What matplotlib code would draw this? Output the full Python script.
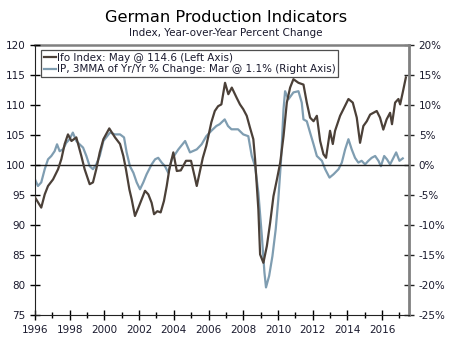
import numpy as np
import matplotlib
matplotlib.use("Agg")
import matplotlib.pyplot as plt
from matplotlib.ticker import MultipleLocator, FuncFormatter

# Ifo index (left axis): decimal year, index level
ifo_t = [1996.0, 1996.36, 1996.56, 1996.75, 1997.04, 1997.33, 1997.52, 1997.71, 1997.9,
         1998.1, 1998.38, 1998.67, 1998.86, 1999.15, 1999.34, 1999.53, 1999.73, 1999.94,
         2000.28, 2000.61, 2000.9, 2001.09, 2001.24, 2001.44, 2001.57, 2001.76, 2001.96,
         2002.15, 2002.34, 2002.53, 2002.72, 2002.86, 2003.05, 2003.24, 2003.43, 2003.59,
         2003.74, 2003.97, 2004.17, 2004.4, 2004.7, 2004.99, 2005.19, 2005.32, 2005.67,
         2005.87, 2006.16, 2006.36, 2006.55, 2006.74, 2006.95, 2007.14, 2007.34, 2007.62,
         2007.81, 2008.0, 2008.2, 2008.39, 2008.58, 2008.68, 2008.87, 2008.97, 2009.16,
         2009.36, 2009.55, 2009.74, 2009.94, 2010.13, 2010.32, 2010.51, 2010.7, 2010.89,
         2011.18, 2011.47, 2011.66, 2011.85, 2012.05, 2012.24, 2012.43, 2012.62, 2012.77,
         2013.0, 2013.16, 2013.29, 2013.58, 2013.77, 2014.06, 2014.31, 2014.54, 2014.73,
         2014.92, 2015.12, 2015.31, 2015.5, 2015.69, 2015.88, 2016.07, 2016.26, 2016.46,
         2016.57, 2016.75, 2016.94, 2017.04, 2017.19, 2017.37]
ifo_v = [94.6, 92.9, 95.1, 96.5, 97.6, 99.3, 101.0, 103.5, 105.1,
         104.0, 104.6, 101.5, 99.3, 96.8, 97.1, 99.3, 102.1, 104.3,
         106.1, 104.6, 103.5, 101.5, 99.3, 95.9, 94.3, 91.5, 92.9,
         94.3, 95.7, 95.1, 93.7, 91.8, 92.3, 92.1, 94.0, 96.5,
         99.3, 102.1, 99.0, 99.1, 100.7, 100.7, 98.2, 96.5, 101.2,
         103.2, 107.1, 109.0, 109.8, 110.1, 113.7, 111.8, 112.9, 111.2,
         110.1, 109.3, 108.2, 106.2, 104.3, 101.0, 92.6, 85.1, 83.7,
         86.5, 90.4, 94.8, 97.6, 100.4, 104.8, 110.4, 112.9, 114.3,
         113.7, 113.4, 110.4, 107.9, 107.3, 108.2, 104.0, 101.8, 101.2,
         105.7, 103.5, 105.7, 108.2, 109.3, 111.0, 110.4, 107.9, 103.7,
         106.5, 107.3, 108.4, 108.7, 109.0, 107.9, 105.9, 107.6, 108.7,
         106.8, 110.4, 111.0, 110.1, 112.1, 114.6]

# IP, 3MMA of yr/yr % change (right axis)
ip_t = [1996.0, 1996.17, 1996.36, 1996.56, 1996.75, 1996.94, 1997.13, 1997.27, 1997.42,
        1997.61, 1997.8, 1997.99, 1998.18, 1998.38, 1998.57, 1998.77, 1998.96, 1999.15,
        1999.34, 1999.53, 1999.73, 1999.94, 2000.32, 2000.61, 2000.9, 2001.13, 2001.28,
        2001.47, 2001.67, 2001.86, 2002.05, 2002.24, 2002.43, 2002.72, 2002.92, 2003.1,
        2003.3, 2003.49, 2003.68, 2003.88, 2004.26, 2004.65, 2004.93, 2005.32, 2005.6,
        2005.87, 2006.16, 2006.45, 2006.64, 2006.93, 2007.12, 2007.32, 2007.7, 2008.0,
        2008.29, 2008.49, 2008.68, 2008.87, 2009.07, 2009.22, 2009.31, 2009.49, 2009.68,
        2009.87, 2010.02, 2010.18, 2010.32, 2010.41, 2010.6, 2010.89, 2011.18, 2011.37,
        2011.47, 2011.66, 2011.85, 2012.05, 2012.24, 2012.53, 2012.72, 2012.97, 2013.2,
        2013.49, 2013.68, 2013.87, 2014.06, 2014.25, 2014.44, 2014.63, 2014.82, 2015.02,
        2015.21, 2015.4, 2015.6, 2015.79, 2015.93, 2016.12, 2016.28, 2016.46, 2016.61,
        2016.81, 2017.0, 2017.19]
ip_v = [-2.4, -3.5, -2.9, -0.7, 0.95, 1.5, 2.3, 3.45, 2.3,
        2.6, 3.7, 4.3, 5.4, 4.0, 3.45, 2.9, 1.5, -0.2,
        -0.7, 0.1, 1.5, 4.0, 5.4, 5.1, 5.1, 4.6, 2.1,
        -0.2, -1.3, -2.9, -4.05, -2.9, -1.55, 0.1, 0.95, 1.2,
        0.4, -0.2, -1.3, 0.95, 2.6, 4.0, 2.1, 2.6, 3.45,
        4.8, 5.7, 6.5, 6.8, 7.6, 6.5, 5.95, 5.95, 5.1,
        4.8, 1.5, -0.2, -4.6, -11.8, -17.9, -20.4, -18.5, -15.2,
        -10.7, -5.7, 0.95, 9.3, 12.3, 10.95, 12.1, 12.3, 10.4,
        7.6, 7.3, 5.4, 3.45, 1.5, 0.7, -0.7, -2.1, -1.55,
        -0.7, 0.4, 2.6, 4.3, 2.6, 1.2, 0.4, 0.7, 0.1,
        0.7, 1.2, 1.5, 0.7, -0.2, 1.5, 0.95, 0.1, 0.95,
        2.1, 0.7, 1.1]

ifo_color = "#4b4038"
ip_color = "#7f9db1"
text_color = "#1a1a2e"

fig = plt.figure(figsize=(4.5, 3.41), dpi=100)
ax = fig.add_axes([35 / 450, 26 / 341, 374 / 450, 270 / 341])
ax2 = ax.twinx()

ax.axhline(100, color="#222222", lw=1.0, zorder=1)
l2, = ax2.plot(ip_t, ip_v, color=ip_color, lw=1.6, zorder=2,
               label="IP, 3MMA of Yr/Yr % Change: Mar @ 1.1% (Right Axis)")
l1, = ax.plot(ifo_t, ifo_v, color=ifo_color, lw=1.6, zorder=3,
              label="Ifo Index: May @ 114.6 (Left Axis)")
ax.set_zorder(ax2.get_zorder() + 1)
ax.patch.set_visible(False)

ax.set_xlim(1996, 2017.55)
ax.set_ylim(75, 120)
ax2.set_ylim(-25, 20)

ax.xaxis.set_major_locator(MultipleLocator(2))
ax.xaxis.set_minor_locator(MultipleLocator(1))
ax.yaxis.set_major_locator(MultipleLocator(5))
ax2.yaxis.set_major_locator(MultipleLocator(5))
ax2.yaxis.set_major_formatter(FuncFormatter(lambda v, p: f"{v:.0f}%"))

for a in (ax, ax2):
    a.tick_params(which="both", direction="inout", labelsize=7.5,
                  labelcolor=text_color, width=1)
    a.tick_params(which="major", length=7)
    a.tick_params(which="minor", length=5)
    for s in a.spines.values():
        s.set_visible(False)

ax.spines["left"].set_visible(True)
ax.spines["bottom"].set_visible(True)
ax.spines["left"].set_color("#222222")
ax.spines["bottom"].set_color("#222222")
ax2.spines["top"].set_visible(True)
ax2.spines["right"].set_visible(True)
ax2.spines["top"].set_color("#808080")
ax2.spines["right"].set_color("#808080")
ax2.spines["top"].set_linewidth(1.8)
ax2.spines["right"].set_linewidth(2.0)
ax2.tick_params(axis="y", colors="#222222", labelcolor=text_color)

leg = ax.legend(handles=[l1, l2], loc="upper left", bbox_to_anchor=(0.016, 0.981),
                fontsize=7.5, frameon=True, fancybox=False, handlelength=1.2,
                handletextpad=0.1, borderpad=0.25, labelspacing=0.15,
                borderaxespad=0)
leg.get_frame().set_edgecolor("#222222")
leg.get_frame().set_linewidth(0.9)
for t in leg.get_texts():
    t.set_color(text_color)

fig.text(226 / 450, 1 - 17 / 341, "German Production Indicators",
         ha="center", va="center", fontsize=11.7, color="black")
fig.text(226 / 450, 1 - 33 / 341, "Index, Year-over-Year Percent Change",
         ha="center", va="center", fontsize=7.5, color=text_color)

fig.savefig("out.png", dpi=100)
